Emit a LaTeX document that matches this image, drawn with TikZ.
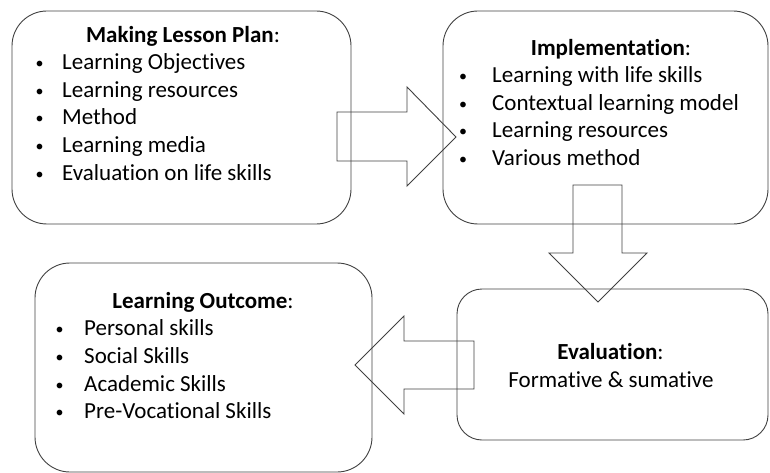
\documentclass[tikz,border=0pt]{standalone}
\usepackage{fontspec}
\setmainfont{Carlito}[Ligatures={NoCommon}]
\definecolor{linegray}{HTML}{404040}
\newcommand\bl[2]{\llap{\makebox[#1pt][l]{\raisebox{1pt}{\fontsize{16}{16}\selectfont •}}}#2}
\tikzset{
  x=1pt, y=-1pt,
  box/.style={draw=linegray, line width=0.9pt, rectangle, inner sep=0pt},
  blockarrow/.style={draw=linegray, line width=0.9pt, line join=miter},
  txt/.style={font=\fontsize{23}{27}\selectfont, inner sep=0pt, text=black},
  ttl/.style={txt, anchor=base},
  itm/.style={txt, anchor=base west},
}
\begin{document}
\begin{tikzpicture}
\useasboundingbox (0,0) rectangle (770,473);
% boxes
\node[box, rounded corners=35pt, minimum width=339pt, minimum height=213pt] (plan) at (181.5,117.5) {};
\node[box, rounded corners=35pt, minimum width=325pt, minimum height=213pt] (impl) at (605.5,117.5) {};
\node[box, rounded corners=35pt, minimum width=337pt, minimum height=209pt] (outc) at (203.5,367.5) {};
\node[box, rounded corners=25pt, minimum width=311pt, minimum height=151pt] (eval) at (612.5,364.5) {};
% block arrows
\draw[blockarrow] (337,112) -- (407,112) -- (407,87) -- (456,137) -- (407,186) -- (407,161) -- (337,161) -- cycle;
\draw[blockarrow] (573,185) -- (622,185) -- (622,253) -- (647,253) -- (598,302) -- (549,253) -- (573,253) -- cycle;
\draw[blockarrow] (474,341) -- (404,341) -- (404,316) -- (355,365) -- (404,414) -- (404,389) -- (474,389) -- cycle;
% box 1 text
\node[ttl] (t1) at (183,43) {\textbf{Making Lesson Plan}:};
\node[itm] (a1) at (62,70) {\bl{26.5}{Learning Objectives}};
\node[itm] (a2) at (62,97.5) {\bl{26.5}{Learning resources}};
\node[itm] (a3) at (62,125) {\bl{26.5}{Method}};
\node[itm] (a4) at (62,152.5) {\bl{26.5}{Learning media}};
\node[itm] (a5) at (62,180) {\bl{26.5}{Evaluation on life skills}};
% box 2 text
\node[ttl] (t2) at (611,56) {\textbf{Implementation}:};
\node[itm] (b1) at (492,83) {\bl{33}{Learning with life skills}};
\node[itm] (b2) at (492,110.5) {\bl{33}{Contextual learning model}};
\node[itm] (b3) at (492,138) {\bl{33}{Learning resources}};
\node[itm] (b4) at (492,165.5) {\bl{33}{Various method}};
% box 3 text
\node[ttl] (t3) at (203,308) {\textbf{Learning Outcome}:};
\node[itm] (c1) at (84,335) {\bl{28.5}{Personal skills}};
\node[itm] (c2) at (84,363) {\bl{28.5}{Social Skills}};
\node[itm] (c3) at (84,391) {\bl{28.5}{Academic Skills}};
\node[itm] (c4) at (84,418) {\bl{28.5}{Pre-Vocational Skills}};
% box 4 text
\node[ttl] (t4) at (610.5,359) {\textbf{Evaluation}:};
\node[ttl] (d1) at (611,387) {Formative \& sumative};
\end{tikzpicture}
\end{document}
